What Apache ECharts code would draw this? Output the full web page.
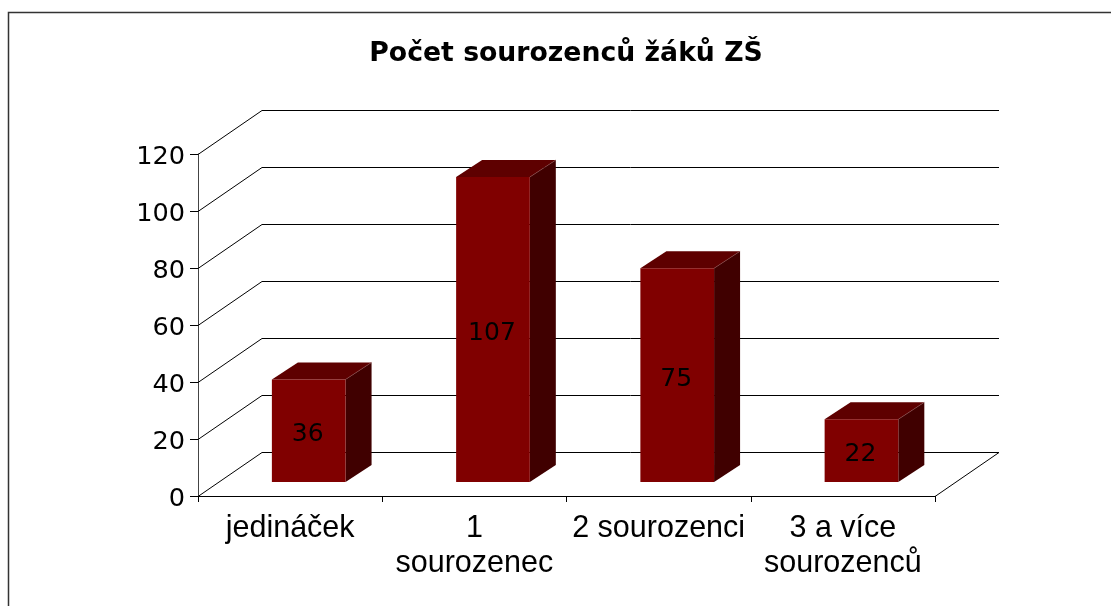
<!DOCTYPE html>
<html>
<head>
<meta charset="utf-8">
<title>Počet sourozenců žáků ZŠ</title>
<style>
  html, body { margin: 0; padding: 0; background: #fff; overflow: hidden; }
  #chart { width: 1111px; height: 606px; }
</style>
<script src="https://cdn.jsdelivr.net/npm/echarts@6/dist/echarts.min.js"></script>
</head>
<body>
<div id="chart"></div>
<script>
const categories = ["jedináček", "1\nsourozenec", "2 sourozenci", "3 a více\nsourozenců"];
const pupils = [36, 107, 75, 22];
const yTicks = [0, 20, 40, 60, 80, 100, 120];

// fake 3D offsets, in pixels
const WALL_DX = 64, WALL_DY = -44;
const BASE_DX = 18.6, BASE_DY = -14;
const BAR_DX = 26, BAR_DY = -17;

const chart = echarts.init(document.getElementById("chart"));

function poly(points, fill) {
  return { type: "polygon", shape: { points }, style: { fill }, silent: true };
}

function renderWallLine(params, api) {
  const sys = params.coordSys;
  const y = Math.round(api.coord([0, api.value(1)])[1]) + 0.5;
  const left = sys.x, right = sys.x + sys.width;
  const children = [{
    type: "polyline",
    shape: { points: [[left, y], [left + WALL_DX, y + WALL_DY], [right + WALL_DX, y + WALL_DY]] },
    style: { stroke: "#000", lineWidth: 1, fill: null }
  }];
  // right edge of the floor
  if (api.value(1) === 0) {
    children.push({
      type: "line",
      shape: { x1: right, y1: y, x2: right + WALL_DX, y2: y + WALL_DY },
      style: { stroke: "#000", lineWidth: 1 }
    });
  }
  return { type: "group", children };
}

function renderBar(params, api) {
  const idx = api.value(0);
  const top = api.coord([idx, api.value(1)]);
  const bottom = api.coord([idx, 0]);
  const w = api.size([1, 0])[0] * 0.4;
  const l = top[0] - w / 2 + BASE_DX, r = l + w;
  const t = top[1] + BASE_DY, b = bottom[1] + BASE_DY;
  return {
    type: "group",
    children: [
      poly([[l, t], [r, t], [r + BAR_DX, t + BAR_DY], [l + BAR_DX, t + BAR_DY]], "#5e0000"),
      poly([[r, t], [r + BAR_DX, t + BAR_DY], [r + BAR_DX, b + BAR_DY], [r, b]], "#400000"),
      poly([[l, t], [r, t], [r, b], [l, b]], "#800000"),
      {
        type: "line",
        shape: { x1: r, y1: t, x2: r + BAR_DX, y2: t + BAR_DY },
        style: { stroke: "#8a4a4a", lineWidth: 0.6 }
      },
      {
        type: "text",
        x: (l + r) / 2 - 1,
        y: (t + b) / 2 + 4,
        style: {
          text: String(api.value(1)),
          fill: "#000",
          font: "25px 'DejaVu Sans'",
          align: "center",
          verticalAlign: "middle"
        }
      }
    ]
  };
}

chart.setOption({
  animation: false,
  backgroundColor: "#fff",
  title: {
    text: "Počet sourozenců žáků ZŠ",
    left: 561,
    top: 36,
    textAlign: "center",
    textStyle: { fontFamily: "DejaVu Sans", fontWeight: "bold", fontSize: 26.7, color: "#000" }
  },
  graphic: [{
    type: "rect",
    shape: { x: 8.5, y: 12.5, width: 1200, height: 700 },
    style: { fill: null, stroke: "#333", lineWidth: 1.5 },
    silent: true,
    z: -1
  }],
  grid: { left: 198, right: 176, top: 154, bottom: 110 },
  xAxis: {
    type: "category",
    data: categories,
    axisLine: { lineStyle: { color: "#000", width: 1 } },
    axisTick: { show: true, length: 6, alignWithLabel: false, lineStyle: { color: "#000" } },
    axisLabel: {
      interval: 0,
      margin: 15,
      lineHeight: 35,
      fontFamily: "Liberation Sans",
      fontSize: 30.5,
      color: "#000"
    },
    splitLine: { show: false }
  },
  yAxis: {
    type: "value",
    min: 0,
    max: 120,
    interval: 20,
    axisLine: { show: true, lineStyle: { color: "#444", width: 1 } },
    axisTick: { show: true, length: 8, lineStyle: { color: "#000" } },
    axisLabel: {
      margin: 13,
      verticalAlign: "top",
      lineHeight: 7,
      fontFamily: "DejaVu Sans",
      fontSize: 25.6,
      color: "#000"
    },
    splitLine: { show: false }
  },
  series: [
    {
      type: "custom",
      renderItem: renderWallLine,
      data: yTicks.map((v) => [0, v]),
      encode: { x: 0, y: 1 },
      silent: true,
      z: 1
    },
    {
      type: "custom",
      renderItem: renderBar,
      data: pupils.map((v, i) => [i, v]),
      encode: { x: 0, y: 1 },
      silent: true,
      z: 2
    }
  ]
});
</script>
</body>
</html>
